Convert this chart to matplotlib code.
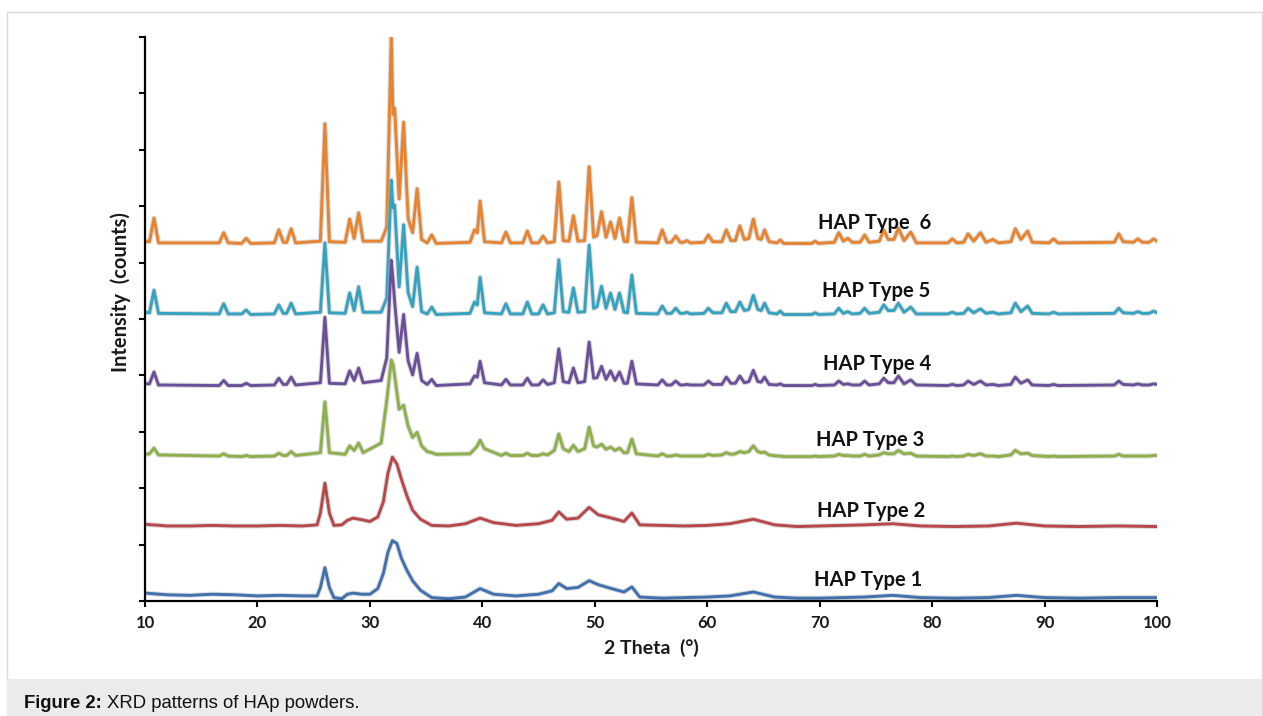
import matplotlib
matplotlib.use("Agg")
import matplotlib.pyplot as plt
import matplotlib.patheffects as pe
from matplotlib.patches import Rectangle

# ---- data (intensity in arbitrary units, relative to each pattern's own baseline) ----
# shared 2-theta grid for the well crystallised samples (types 3-6)
two_theta = [
    10.0, 10.4, 10.8, 11.2, 16.6, 17.0, 17.4, 18.6, 19.0, 19.4, 21.5, 21.9, 22.3, 22.6, 23.0, 23.4, 25.6,
    26.0, 26.4, 27.8, 28.2, 28.6, 29.0, 29.4, 31.0, 31.5, 31.9, 32.05, 32.2, 32.6, 33.0, 33.4, 33.8, 34.2,
    34.6, 35.1, 35.5, 35.9,
    38.9, 39.3, 39.55, 39.8, 40.2, 41.7, 42.1, 42.5, 43.6, 44.0, 44.4, 45.0, 45.4, 45.8, 46.4, 46.8, 47.2,
    47.7, 48.1, 48.5, 49.1, 49.5, 49.9, 50.2, 50.6, 51.0, 51.4, 51.8, 52.2, 52.6, 52.9, 53.3, 53.7,
    55.6, 56.0, 56.4, 56.8, 57.2, 57.6, 57.9, 58.2, 58.5, 59.7, 60.1, 60.5, 61.3, 61.7, 62.1, 62.5, 62.9,
    63.3, 63.7, 64.1, 64.5, 64.8, 65.1, 65.5, 66.2, 66.5, 66.8, 69.3, 69.6, 69.9, 71.3, 71.7, 72.1, 72.5,
    72.9, 73.6, 74.0, 74.4, 75.3, 75.7, 76.1, 76.6, 77.0, 77.5, 78.1, 78.6, 81.4, 81.8, 82.2, 82.8, 83.2,
    83.7, 84.3, 84.8, 85.4, 85.9, 87.0, 87.4, 87.9, 88.5, 88.9, 90.4, 90.8, 91.2, 96.2, 96.6, 97.0, 97.9,
    98.3, 98.7, 99.3, 99.7, 100.0,
]

type6 = [
    0.05, 0.04, 0.46, 0.02, 0.02, 0.20, 0.02, 0.01, 0.10, 0.01, 0.02, 0.25, 0.03, 0.03, 0.27, 0.02, 0.05,
    2.13, 0.04, 0.03, 0.44, 0.10, 0.55, 0.05, 0.05, 0.30, 3.67, 2.30, 2.41, 0.80, 2.16, 0.45, 0.20, 0.98,
    0.08, 0.02, 0.16, 0.01,
    0.03, 0.25, 0.20, 0.76, 0.04, 0.02, 0.21, 0.02, 0.02, 0.23, 0.02, 0.02, 0.14, 0.02, 0.04, 1.10, 0.06,
    0.05, 0.50, 0.05, 0.06, 1.37, 0.12, 0.15, 0.57, 0.12, 0.39, 0.10, 0.46, 0.05, 0.04, 0.82, 0.03,
    0.02, 0.25, 0.03, 0.03, 0.14, 0.03, 0.03, 0.06, 0.02, 0.03, 0.16, 0.04, 0.04, 0.25, 0.06, 0.06, 0.32,
    0.08, 0.10, 0.44, 0.10, 0.08, 0.25, 0.04, 0.02, 0.07, 0.01, 0.01, 0.05, 0.01, 0.03, 0.20, 0.05, 0.10,
    0.03, 0.03, 0.16, 0.03, 0.05, 0.25, 0.08, 0.08, 0.28, 0.06, 0.21, 0.02, 0.02, 0.09, 0.02, 0.03, 0.18,
    0.05, 0.20, 0.03, 0.08, 0.02, 0.04, 0.27, 0.08, 0.23, 0.03, 0.02, 0.09, 0.02, 0.03, 0.18, 0.04, 0.03,
    0.09, 0.03, 0.03, 0.09, 0.05,
]

type5 = [
    0.05, 0.04, 0.44, 0.03, 0.02, 0.20, 0.02, 0.02, 0.09, 0.01, 0.02, 0.18, 0.03, 0.03, 0.21, 0.02, 0.05,
    1.28, 0.04, 0.03, 0.39, 0.08, 0.50, 0.05, 0.05, 0.30, 2.39, 1.90, 1.95, 0.50, 1.60, 0.40, 0.15, 0.85,
    0.06, 0.02, 0.14, 0.01,
    0.03, 0.23, 0.18, 0.67, 0.04, 0.02, 0.20, 0.02, 0.02, 0.23, 0.02, 0.02, 0.18, 0.02, 0.04, 0.98, 0.06,
    0.05, 0.48, 0.05, 0.06, 1.24, 0.12, 0.15, 0.51, 0.12, 0.39, 0.10, 0.39, 0.05, 0.04, 0.71, 0.03,
    0.02, 0.16, 0.03, 0.03, 0.12, 0.03, 0.03, 0.05, 0.02, 0.03, 0.12, 0.04, 0.04, 0.21, 0.06, 0.06, 0.23,
    0.08, 0.10, 0.35, 0.10, 0.08, 0.21, 0.04, 0.02, 0.07, 0.01, 0.01, 0.04, 0.01, 0.02, 0.12, 0.03, 0.06,
    0.02, 0.03, 0.12, 0.03, 0.05, 0.18, 0.08, 0.08, 0.21, 0.05, 0.14, 0.02, 0.02, 0.05, 0.02, 0.03, 0.12,
    0.04, 0.11, 0.03, 0.05, 0.02, 0.04, 0.21, 0.06, 0.16, 0.03, 0.02, 0.05, 0.02, 0.03, 0.12, 0.04, 0.03,
    0.06, 0.03, 0.03, 0.07, 0.04,
]

type4 = [
    0.04, 0.04, 0.25, 0.02, 0.01, 0.10, 0.01, 0.01, 0.05, 0.01, 0.02, 0.14, 0.03, 0.03, 0.16, 0.02, 0.06,
    1.22, 0.05, 0.04, 0.27, 0.10, 0.32, 0.06, 0.10, 0.50, 2.23, 1.90, 1.50, 0.60, 1.27, 0.45, 0.20, 0.58,
    0.10, 0.03, 0.12, 0.01,
    0.04, 0.18, 0.16, 0.44, 0.06, 0.02, 0.12, 0.02, 0.02, 0.14, 0.02, 0.02, 0.11, 0.03, 0.06, 0.66, 0.08,
    0.06, 0.32, 0.06, 0.08, 0.78, 0.14, 0.15, 0.35, 0.12, 0.27, 0.10, 0.25, 0.05, 0.05, 0.44, 0.04,
    0.02, 0.11, 0.02, 0.02, 0.09, 0.02, 0.02, 0.03, 0.02, 0.02, 0.09, 0.03, 0.03, 0.16, 0.05, 0.05, 0.18,
    0.06, 0.08, 0.28, 0.08, 0.07, 0.16, 0.03, 0.02, 0.04, 0.01, 0.01, 0.03, 0.01, 0.02, 0.09, 0.03, 0.04,
    0.02, 0.02, 0.09, 0.02, 0.04, 0.14, 0.06, 0.06, 0.18, 0.04, 0.11, 0.02, 0.01, 0.03, 0.01, 0.02, 0.09,
    0.03, 0.09, 0.02, 0.03, 0.01, 0.03, 0.16, 0.05, 0.11, 0.02, 0.01, 0.03, 0.01, 0.02, 0.09, 0.03, 0.02,
    0.04, 0.02, 0.02, 0.04, 0.03,
]

type3 = [
    0.05, 0.06, 0.16, 0.04, 0.02, 0.06, 0.02, 0.01, 0.03, 0.01, 0.02, 0.07, 0.03, 0.03, 0.10, 0.03, 0.08,
    0.98, 0.08, 0.05, 0.20, 0.12, 0.25, 0.08, 0.25, 1.00, 1.72, 1.65, 1.45, 0.85, 0.92, 0.55, 0.35, 0.44,
    0.20, 0.10, 0.08, 0.05,
    0.06, 0.14, 0.20, 0.30, 0.15, 0.03, 0.07, 0.03, 0.03, 0.07, 0.03, 0.03, 0.06, 0.04, 0.12, 0.41, 0.15,
    0.10, 0.21, 0.10, 0.15, 0.53, 0.20, 0.18, 0.23, 0.14, 0.18, 0.12, 0.16, 0.08, 0.08, 0.32, 0.06,
    0.02, 0.06, 0.02, 0.02, 0.04, 0.02, 0.02, 0.02, 0.02, 0.02, 0.05, 0.03, 0.04, 0.08, 0.05, 0.06, 0.10,
    0.08, 0.10, 0.20, 0.10, 0.08, 0.09, 0.04, 0.02, 0.02, 0.01, 0.01, 0.02, 0.01, 0.02, 0.05, 0.03, 0.03,
    0.02, 0.02, 0.05, 0.02, 0.04, 0.08, 0.06, 0.06, 0.12, 0.06, 0.07, 0.02, 0.01, 0.02, 0.01, 0.02, 0.05,
    0.03, 0.06, 0.02, 0.02, 0.01, 0.04, 0.12, 0.06, 0.07, 0.03, 0.01, 0.02, 0.01, 0.02, 0.05, 0.02, 0.02,
    0.02, 0.02, 0.02, 0.03, 0.03,
]

# coarser grid for the poorly crystallised samples (types 1-2, broad peaks)
two_theta_broad = [
    10.0, 12.0, 14.0, 16.0, 18.0, 20.0, 22.0, 24.0, 25.3, 25.6, 26.0, 26.4, 26.8, 27.5, 28.0, 28.5, 29.3,
    30.0, 30.7, 31.2, 31.6, 32.0, 32.4, 32.8, 33.3, 33.8, 34.5, 35.5, 37.0, 38.5, 39.8, 41.0, 43.0, 45.0,
    46.2, 46.8, 47.5, 48.5, 49.5, 50.3, 51.5, 52.6, 53.3, 54.0, 56.0, 58.0, 60.0, 62.0, 64.1, 66.0, 68.0,
    70.0, 72.0, 74.0, 76.5, 79.0, 82.0, 85.0, 87.5, 90.0, 93.0, 96.5, 100.0,
]

type2 = [
    0.05, 0.02, 0.02, 0.03, 0.02, 0.02, 0.03, 0.02, 0.04, 0.25, 0.78, 0.25, 0.03, 0.04, 0.12, 0.16, 0.13,
    0.10, 0.18, 0.45, 0.95, 1.24, 1.12, 0.85, 0.55, 0.30, 0.14, 0.03, 0.02, 0.06, 0.16, 0.08, 0.03, 0.06,
    0.12, 0.27, 0.14, 0.16, 0.35, 0.22, 0.16, 0.10, 0.25, 0.04, 0.03, 0.02, 0.03, 0.06, 0.14, 0.04, 0.01,
    0.02, 0.03, 0.04, 0.06, 0.02, 0.01, 0.02, 0.07, 0.02, 0.01, 0.02, 0.01,
]

type1 = [
    0.10, 0.07, 0.06, 0.08, 0.07, 0.05, 0.06, 0.05, 0.05, 0.20, 0.55, 0.20, 0.02, 0.00, 0.08, 0.10, 0.08,
    0.08, 0.18, 0.45, 0.82, 1.03, 0.98, 0.72, 0.50, 0.32, 0.15, 0.02, 0.00, 0.03, 0.18, 0.08, 0.05, 0.08,
    0.14, 0.27, 0.18, 0.20, 0.32, 0.25, 0.18, 0.12, 0.21, 0.03, 0.01, 0.02, 0.03, 0.05, 0.12, 0.03, 0.01,
    0.01, 0.02, 0.03, 0.06, 0.02, 0.01, 0.02, 0.06, 0.02, 0.01, 0.02, 0.02,
]

labels = ["HAP Type  6", "HAP Type 5", "HAP Type 4", "HAP Type 3", "HAP Type 2", "HAP Type 1"]
offsets = [6.33, 5.07, 3.81, 2.55, 1.31, 0.04]
label_x = [74.9, 75.05, 75.1, 74.5, 74.6, 74.3]
label_y = [6.60, 5.39, 4.10, 2.75, 1.49, 0.27]
colors = ["#e8832f", "#35a3c0", "#6b5099", "#8eb04b", "#b8474a", "#4070ae"]

series = [
    (two_theta, type6),
    (two_theta, type5),
    (two_theta, type4),
    (two_theta, type3),
    (two_theta_broad, type2),
    (two_theta_broad, type1),
]

W, H = 1263, 716
fig = plt.figure(figsize=(W / 100, H / 100), dpi=100)

# page frame + caption bar
fig.patches.append(Rectangle((7 / W, 0), (W - 8) / W, (H - 12) / H, transform=fig.transFigure,
                             fill=False, edgecolor="#d9d9d9", lw=1, zorder=0))
fig.patches.append(Rectangle((7 / W, 0), (W - 8) / W, 37 / H, transform=fig.transFigure,
                             facecolor="#ebebeb", edgecolor="none", zorder=0))

ax = fig.add_axes([145 / W, 1 - 601 / H, (1157 - 145) / W, (601 - 37) / H])

for (xs, ys), off, col in zip(series, offsets, colors):
    ax.plot(xs, [v + off for v in ys], color=col, lw=2.1, solid_joinstyle="round",
            path_effects=[pe.Stroke(linewidth=3.6, foreground="#b0b0b0", alpha=0.45), pe.Normal()])

for lab, lx, ly in zip(labels, label_x, label_y):
    ax.text(lx, ly, lab, ha="center", va="baseline", fontsize=14.5, fontweight="bold",
            family="Lato", color="#111111")

ax.set_xlim(10, 100)
ax.set_ylim(0, 10)
ax.set_xticks(range(10, 101, 10))
ax.set_yticks(range(0, 11))
ax.set_yticklabels([])
for s in ["top", "right"]:
    ax.spines[s].set_visible(False)
for s in ["left", "bottom"]:
    ax.spines[s].set_linewidth(1.6)
ax.tick_params(axis="x", direction="out", length=4, width=1.5, pad=6, labelsize=12)
ax.tick_params(axis="y", direction="out", length=4, width=1.5)
for t in ax.get_xticklabels():
    t.set_family("Lato")
    t.set_fontweight("bold")
    t.set_color("#1a1a1a")

fig.text(651 / W, 1 - 654 / H, "2 Theta  (\u00b0)", ha="center", va="baseline",
         fontsize=14, family="Lato", fontweight="bold", color="#1a1a1a")
fig.text(121 / W, 1 - 292 / H, "Intensity  (counts)", ha="center", va="center", rotation=90,
         fontsize=14.5, family="Lato", fontweight="bold", color="#1a1a1a")

# caption
t1 = fig.text(24 / W, 1 - 708 / H, "Figure 2:", ha="left", va="baseline", fontsize=13.3,
              family="Liberation Sans", fontweight="bold", color="#111111")
fig.canvas.draw()
bb = t1.get_window_extent()
fig.text(bb.x1 / W + 5 / W, 1 - 708 / H, "XRD patterns of HAp powders.", ha="left", va="baseline",
         fontsize=13.3, family="Liberation Sans", color="#111111")

fig.savefig("out.png", dpi=100)
